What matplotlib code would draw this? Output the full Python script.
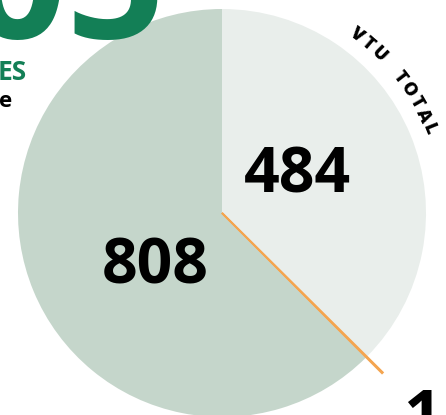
import numpy as np
import matplotlib
matplotlib.use("Agg")
import matplotlib.pyplot as plt

# slices, clockwise from 12 o'clock
labels = ["484", "1", "808"]
values = [484, 1, 808]
colors = ["#e9eeeb", "#f4a550", "#c5d6cb"]
ring_title = "VTU TOTAL"

plt.rcParams['font.family'] = ['Open Sans', 'DejaVu Sans']

W, H = 446, 415
fig = plt.figure(figsize=(W / 100, H / 100), dpi=100)
ax = fig.add_axes([0, 0, 1, 1])

cx, cy, r = 222, H - 213, 204
wedges, _ = ax.pie(values, colors=colors, startangle=90, counterclock=False,
                   center=(cx, cy), radius=r,
                   wedgeprops=dict(linewidth=0))
# the thin orange slice sticks out past the pie
wedges[1].set_radius(r * 1.11)
wedges[1].set_edgecolor(colors[1])
wedges[1].set_linewidth(1.4)
wedges[1].set_zorder(3)

ax.set_xlim(0, W)
ax.set_ylim(0, H)
ax.set_aspect('equal')
ax.axis('off')

# value labels inside the slices
ax.text(297, H - 176, labels[0], fontsize=45, fontweight='bold',
        ha='center', va='center', color='black')
ax.text(155, H - 267, labels[2], fontsize=45, fontweight='bold',
        ha='center', va='center', color='black')
# label of the tiny slice, mostly off the canvas
ax.text(403, H - 386, labels[1], fontsize=48, fontweight='bold',
        ha='left', va='top', color='black')

# curved title around the rim
rr = 223
angs = np.linspace(37, 68, len(ring_title))
for ch, a in zip(ring_title, angs):
    t = np.radians(a)
    ax.text(cx + rr * np.sin(t), cy + rr * np.cos(t), ch, fontsize=13,
            fontweight='heavy', rotation=-a, ha='center', va='center',
            color='black')

# pieces of neighbouring graphics cut by the frame
ax.text(166, H - 38, "05", fontsize=125, fontweight='bold', color='#137f56',
        ha='right', va='baseline')
ax.text(-2, H - 80, "ES", fontsize=19, fontweight='bold', color='#137f56',
        ha='left', va='baseline')
ax.text(-1, H - 107, "e", fontsize=16, fontweight='bold', color='black',
        ha='left', va='baseline')

fig.savefig("out.png", dpi=100)
